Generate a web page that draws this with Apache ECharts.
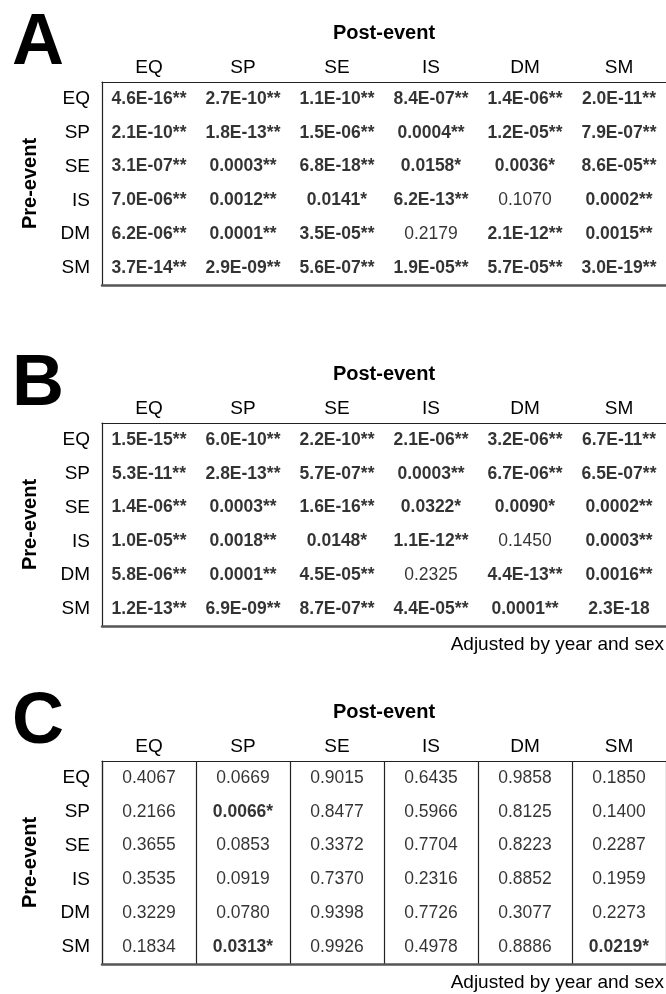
<!DOCTYPE html>
<html>
<head>
<meta charset="utf-8">
<script src="https://cdn.jsdelivr.net/npm/echarts@6/dist/echarts.min.js"></script>
<style>
  html, body { margin: 0; padding: 0; background: #fff; }
  #chart { width: 666px; height: 994px; }
</style>
</head>
<body>
<div id="chart"></div>
<script>
  // post-event columns, pre-event rows
  var postEvent = ['EQ', 'SP', 'SE', 'IS', 'DM', 'SM']
  var preEvent = ['EQ', 'SP', 'SE', 'IS', 'DM', 'SM']

  var pA = [
    ['4.6E-16**', '2.7E-10**', '1.1E-10**', '8.4E-07**', '1.4E-06**', '2.0E-11**'],
    ['2.1E-10**', '1.8E-13**', '1.5E-06**', '0.0004**', '1.2E-05**', '7.9E-07**'],
    ['3.1E-07**', '0.0003**', '6.8E-18**', '0.0158*', '0.0036*', '8.6E-05**'],
    ['7.0E-06**', '0.0012**', '0.0141*', '6.2E-13**', '0.1070', '0.0002**'],
    ['6.2E-06**', '0.0001**', '3.5E-05**', '0.2179', '2.1E-12**', '0.0015**'],
    ['3.7E-14**', '2.9E-09**', '5.6E-07**', '1.9E-05**', '5.7E-05**', '3.0E-19**']
  ]
  var pB = [
    ['1.5E-15**', '6.0E-10**', '2.2E-10**', '2.1E-06**', '3.2E-06**', '6.7E-11**'],
    ['5.3E-11**', '2.8E-13**', '5.7E-07**', '0.0003**', '6.7E-06**', '6.5E-07**'],
    ['1.4E-06**', '0.0003**', '1.6E-16**', '0.0322*', '0.0090*', '0.0002**'],
    ['1.0E-05**', '0.0018**', '0.0148*', '1.1E-12**', '0.1450', '0.0003**'],
    ['5.8E-06**', '0.0001**', '4.5E-05**', '0.2325', '4.4E-13**', '0.0016**'],
    ['1.2E-13**', '6.9E-09**', '8.7E-07**', '4.4E-05**', '0.0001**', '2.3E-18']
  ]
  var pC = [
    ['0.4067', '0.0669', '0.9015', '0.6435', '0.9858', '0.1850'],
    ['0.2166', '0.0066*', '0.8477', '0.5966', '0.8125', '0.1400'],
    ['0.3655', '0.0853', '0.3372', '0.7704', '0.8223', '0.2287'],
    ['0.3535', '0.0919', '0.7370', '0.2316', '0.8852', '0.1959'],
    ['0.3229', '0.0780', '0.9398', '0.7726', '0.3077', '0.2273'],
    ['0.1834', '0.0313*', '0.9926', '0.4978', '0.8886', '0.0219*']
  ]
  var panelLetters = ['A', 'B', 'C']
  var footNote = 'Adjusted by year and sex'

  var font = '"Liberation Sans", Arial, sans-serif'
  var tables = [pA, pB, pC]
  var gridTops = [82, 423, 761]

  function cells(tbl) {
    var out = []
    tbl.forEach(function (row, r) {
      row.forEach(function (v, c) {
        out.push([postEvent[c], preEvent[r], v])
      })
    })
    return out
  }

  var grid = [], xAxis = [], yAxis = [], series = []
  tables.forEach(function (tbl, i) {
    grid.push({ left: 102, right: -3, top: gridTops[i], height: 203 })
    xAxis.push({
      type: 'category',
      gridIndex: i,
      position: 'top',
      data: postEvent,
      name: 'Post-event',
      nameLocation: 'middle',
      nameGap: 39,
      nameTextStyle: { fontFamily: font, fontSize: 20, fontWeight: 'bold', color: '#000' },
      axisLine: { lineStyle: { color: '#222', width: 1.2 } },
      axisTick: { show: false },
      axisLabel: { margin: 5, fontFamily: font, fontSize: 19, color: '#000' },
      splitLine: { show: i === 2, lineStyle: { color: '#222', width: 1.2 } }
    })
    xAxis.push({
      type: 'category',
      gridIndex: i,
      position: 'bottom',
      data: postEvent,
      axisLine: { lineStyle: { color: '#555', width: 2.5 } },
      axisTick: { show: false },
      axisLabel: { show: false }
    })
    yAxis.push({
      type: 'category',
      gridIndex: i,
      inverse: true,
      data: preEvent,
      name: 'Pre-event',
      nameLocation: 'middle',
      nameRotate: 90,
      nameGap: 62,
      nameTextStyle: { fontFamily: font, fontSize: 20, fontWeight: 'bold', color: '#000' },
      axisLine: { lineStyle: { color: '#222', width: 1.2 } },
      axisTick: { show: false },
      axisLabel: { margin: 12, fontFamily: font, fontSize: 19, color: '#000' },
      splitLine: { show: false }
    })
    series.push({
      type: 'scatter',
      xAxisIndex: i * 2,
      yAxisIndex: i,
      symbolSize: 1,
      itemStyle: { color: 'rgba(0,0,0,0)' },
      silent: true,
      label: {
        show: true,
        position: 'inside',
        color: '#000',
        textBorderWidth: 0,
        formatter: function (p) {
          var t = p.data[2]
          return parseFloat(t) < 0.05 ? '{b|' + t + '}' : '{n|' + t + '}'
        },
        rich: {
          b: { fontFamily: font, fontSize: 17.5, fontWeight: 'bold', color: '#000' },
          n: { fontFamily: font, fontSize: 17.5, color: '#000' }
        }
      },
      data: cells(tbl)
    })
  })

  var title = panelLetters.map(function (l, i) {
    return {
      text: l,
      left: 7,
      top: gridTops[i] - 79,
      textStyle: { fontFamily: font, fontSize: 72, fontWeight: 'bold', color: '#000' }
    }
  })
  title.push({ text: footNote, right: -3, top: 630, textStyle: { fontFamily: font, fontSize: 19, fontWeight: 'normal', color: '#000' } })
  title.push({ text: footNote, right: -3, top: 968, textStyle: { fontFamily: font, fontSize: 19, fontWeight: 'normal', color: '#000' } })

  var chart = echarts.init(document.getElementById('chart'))
  chart.setOption({
    backgroundColor: '#fff',
    animation: false,
    title: title,
    grid: grid,
    xAxis: xAxis,
    yAxis: yAxis,
    series: series
  })
</script>
</body>
</html>
